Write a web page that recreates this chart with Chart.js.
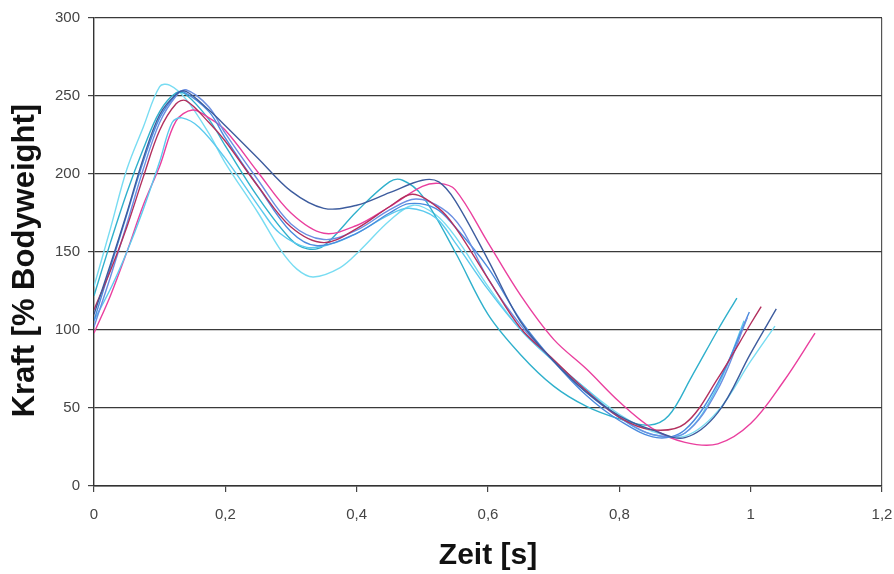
<!DOCTYPE html>
<html lang="de">
<head>
  <meta charset="UTF-8">
  <title>Kraft - Zeit</title>
  <script src="https://cdn.jsdelivr.net/npm/chart.js"></script>
  <style>
    html, body { margin: 0; padding: 0; background: #fff; }
    #box { width: 894px; height: 574px; }
  </style>
</head>
<body>
  <div id="box"><canvas id="gf"></canvas></div>

<script>
  // tick labels
  const xTickLabels = ['0', '0,2', '0,4', '0,6', '0,8', '1', '1,2']
  const yTickLabels = ['0', '50', '100', '150', '200', '250', '300']

  // teal, fastest fall
  const tealX = [0, 0.025, 0.05, 0.075, 0.1, 0.125, 0.14, 0.175, 0.2, 0.25, 0.3, 0.325, 0.35, 0.4, 0.45, 0.47, 0.5, 0.55, 0.6, 0.65, 0.7, 0.75, 0.8, 0.845, 0.875, 0.91, 0.95, 0.979]
  const tealY = [122, 156, 188, 216, 240, 252, 251, 235, 218, 185, 158, 152, 154, 176, 195, 196, 186, 150, 110, 84, 64, 51, 43, 39, 45, 70, 100, 120.5]

  // light cyan, early peak, deep dip
  const cyanAX = [0, 0.025, 0.05, 0.075, 0.1, 0.115, 0.14, 0.175, 0.2, 0.25, 0.283, 0.309, 0.334, 0.375, 0.405, 0.45, 0.486, 0.52, 0.55, 0.6, 0.65, 0.7, 0.75, 0.8, 0.85, 0.9, 0.95, 1.0, 1.037]
  const cyanAY = [128, 165, 203, 230, 256, 257, 248, 226, 207, 175, 152, 139, 134, 140, 151, 170, 180, 174, 160, 128, 100, 80, 62, 46, 35, 32, 48, 80, 102.5]

  // cyan, low first peak
  const cyanBX = [0, 0.027, 0.05, 0.073, 0.1, 0.119, 0.134, 0.16, 0.2, 0.258, 0.283, 0.324, 0.36, 0.4, 0.45, 0.48, 0.52, 0.55, 0.6, 0.65, 0.7, 0.75, 0.8, 0.85, 0.9, 0.95, 0.99]
  const cyanBY = [106, 128, 150, 175, 208, 233, 236, 230, 210, 175, 162, 153, 155, 162, 174, 178, 172, 156, 126, 100, 80, 62, 44, 33, 34, 64, 106]

  // blue
  const blueX = [0, 0.025, 0.05, 0.075, 0.1, 0.125, 0.135, 0.175, 0.2, 0.25, 0.3, 0.34, 0.4, 0.45, 0.48, 0.52, 0.55, 0.6, 0.65, 0.7, 0.75, 0.8, 0.857, 0.9, 0.95, 0.998]
  const blueY = [106, 140, 174, 208, 236, 251, 253, 240, 223, 192, 163, 154, 162, 175, 181, 178, 166, 140, 106, 80, 58, 42, 31, 36, 66, 111.5]

  // periwinkle
  const periX = [0, 0.025, 0.05, 0.075, 0.1, 0.125, 0.14, 0.175, 0.2, 0.25, 0.3, 0.35, 0.4, 0.45, 0.49, 0.53, 0.56, 0.6, 0.65, 0.7, 0.75, 0.8, 0.85, 0.9, 0.95, 0.995]
  const periY = [102, 134, 168, 203, 233, 250, 254, 243, 226, 196, 168, 158, 164, 177, 184, 178, 165, 133, 103, 80, 60, 44, 33, 34, 62, 108]

  // navy
  const navyX = [0, 0.025, 0.05, 0.075, 0.1, 0.125, 0.14, 0.175, 0.2, 0.25, 0.3, 0.35, 0.4, 0.45, 0.5, 0.525, 0.55, 0.6, 0.65, 0.7, 0.75, 0.8, 0.85, 0.9, 0.95, 1.0, 1.039]
  const navyY = [110, 142, 175, 210, 238, 251, 253, 241, 231, 210, 189, 178, 180, 188, 196, 195, 183, 145, 105, 80, 60, 45, 36, 31, 47, 85, 113.5]

  // crimson
  const crimX = [0, 0.025, 0.05, 0.075, 0.1, 0.125, 0.14, 0.175, 0.2, 0.25, 0.3, 0.35, 0.4, 0.45, 0.485, 0.525, 0.55, 0.6, 0.65, 0.7, 0.75, 0.8, 0.85, 0.9, 0.95, 1.0, 1.016]
  const crimY = [113, 138, 166, 198, 228, 245, 247, 233, 221, 192, 166, 156, 165, 179, 187, 178, 166, 133, 101, 81, 61, 44, 36, 40, 69, 104, 115]

  // magenta, latest
  const magX = [0, 0.025, 0.05, 0.075, 0.1, 0.125, 0.15, 0.175, 0.2, 0.25, 0.3, 0.35, 0.4, 0.45, 0.5, 0.525, 0.55, 0.6, 0.65, 0.7, 0.75, 0.8, 0.85, 0.9, 0.95, 1.0, 1.05, 1.098]
  const magY = [98, 122, 150, 180, 205, 234, 241, 236, 228, 201, 175, 162, 167, 179, 192, 194, 190, 156, 122, 94, 75, 54, 37, 28, 27, 40, 67, 98]

  function pontos(xs, ys) {
    return xs.map(function (x, i) { return { x: x, y: ys[i] } })
  }

  function serie(xs, ys, cor) {
    return {
      data: pontos(xs, ys),
      borderColor: cor,
      borderWidth: 1.4,
      pointRadius: 0,
      fill: false,
      tension: 0.35
    }
  }

  const ctx = document.getElementById('gf').getContext('2d')

  new Chart(ctx, {
    type: 'line',
    data: {
      datasets: [
        serie(navyX, navyY, '#3d5c9e'),
        serie(crimX, crimY, '#b3305e'),
        serie(periX, periY, '#6b8fe2'),
        serie(blueX, blueY, '#4a8ade'),
        serie(cyanBX, cyanBY, '#5ccaee'),
        serie(magX, magY, '#ea3f9e'),
        serie(tealX, tealY, '#2fb0cc'),
        serie(cyanAX, cyanAY, '#78dcf2')
      ]
    },
    options: {
      responsive: true,
      maintainAspectRatio: false,
      animation: false,
      layout: { padding: { top: 18, right: 12, left: 0, bottom: 0 } },
      plugins: {
        legend: { display: false },
        tooltip: { enabled: false }
      },
      scales: {
        x: {
          type: 'linear',
          min: 0,
          max: 1.2,
          afterFit: function (s) {
            s.height = 88
            s.paddingLeft = 0
            s.paddingRight = 0
          },
          ticks: {
            stepSize: 0.2,
            padding: 14,
            color: '#444',
            font: { family: 'Liberation Sans', size: 15 },
            callback: function (v, i) { return xTickLabels[i] }
          },
          grid: {
            drawOnChartArea: true,
            color: function (c) { return c.index === xTickLabels.length - 1 ? '#555' : 'rgba(0,0,0,0)' },
            tickColor: '#444',
            tickLength: 6,
            lineWidth: 1.2
          },
          border: { color: '#333', width: 1.4 },
          title: {
            display: true,
            text: 'Zeit [s]',
            color: '#111',
            padding: { top: 0, bottom: 0 },
            font: { family: 'Liberation Sans', size: 30, weight: 'bold' }
          }
        },
        y: {
          min: 0,
          max: 300,
          afterFit: function (s) {
            s.width = 94
            s.paddingTop = 0
            s.paddingBottom = 0
          },
          ticks: {
            stepSize: 50,
            padding: 8,
            color: '#444',
            font: { family: 'Liberation Sans', size: 15 },
            callback: function (v, i) { return yTickLabels[i] }
          },
          grid: {
            color: '#3a3a3a',
            tickColor: '#444',
            tickLength: 6,
            lineWidth: 1.2
          },
          border: { color: '#333', width: 1.4 },
          title: {
            display: true,
            text: 'Kraft [% Bodyweight]  ',
            color: '#111',
            padding: { top: 7, bottom: 0 },
            font: { family: 'Liberation Sans', size: 31, weight: 'bold' }
          }
        }
      }
    }
  })
</script>
</body>
</html>
